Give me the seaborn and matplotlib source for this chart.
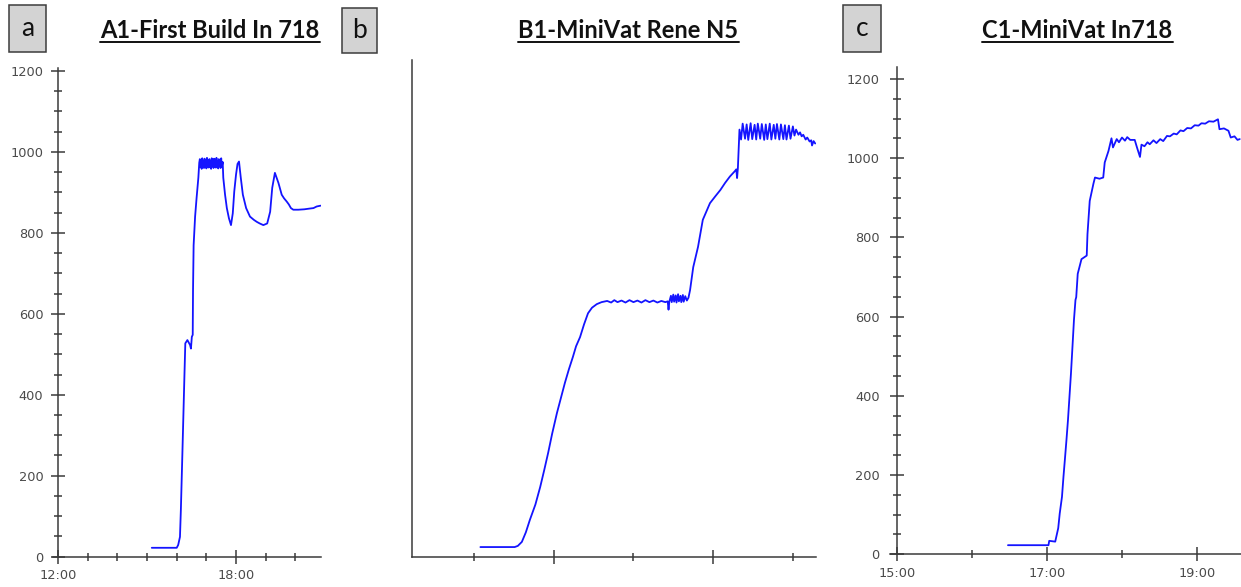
import matplotlib
matplotlib.use("Agg")
import matplotlib.pyplot as plt
from matplotlib.patches import Rectangle
from matplotlib.lines import Line2D
from matplotlib.ticker import FixedLocator
import seaborn as sns
import pandas as pd

# ---------------- data (time in hours of day, temperature in deg C) ----------------
a_time = [15.16, 16.00, 16.05, 16.11, 16.14, 16.19, 16.26, 16.29, 16.36, 16.45, 16.48, 16.51, 16.54, 16.55,
          16.57, 16.62, 16.67, 16.73, 16.76,
          16.78, 16.80, 16.82, 16.84, 16.86, 16.88, 16.90, 16.92, 16.94, 16.96, 16.98, 17.00, 17.02,
          17.04, 17.06, 17.08, 17.10, 17.12, 17.14, 17.16, 17.18, 17.20, 17.22, 17.24, 17.26, 17.28,
          17.30, 17.32, 17.34, 17.36, 17.38, 17.40, 17.42, 17.44, 17.46, 17.48, 17.50, 17.52, 17.55,
          17.57, 17.63, 17.69, 17.76, 17.83, 17.89, 17.94, 18.00, 18.05, 18.10, 18.16, 18.23, 18.34,
          18.47, 18.60, 18.70, 18.80, 18.92, 19.05, 19.15, 19.22, 19.31, 19.43, 19.54, 19.62, 19.71,
          19.78, 19.85, 19.93, 20.10, 20.30, 20.50, 20.61, 20.72, 20.85]
a_temp = [22, 22, 29, 49, 115, 251, 446, 527, 535, 523, 514, 543, 548, 658,
          769, 840, 886, 936, 973,
          982, 962, 979, 958, 984, 965, 977, 960, 983, 966, 980, 959, 985,
          963, 978, 961, 982, 964, 976, 958, 984, 967, 980, 960, 983, 962,
          979, 961, 985, 964, 977, 959, 982, 966, 980, 960, 984, 963, 975,
          936, 894, 861, 836, 819, 848, 902, 944, 970, 976, 936, 894, 861,
          840, 832, 827, 823, 819, 823, 852, 911, 948, 923, 894, 885, 877,
          870, 861, 857, 857, 858, 860, 861, 865, 867]

b_time = [15.08, 15.51, 15.55, 15.60, 15.65, 15.70, 15.77, 15.83, 15.88, 15.93, 15.98, 16.04, 16.09,
          16.14, 16.19, 16.24, 16.28, 16.33, 16.38, 16.43, 16.48, 16.54, 16.60, 16.67,
          16.72, 16.76, 16.80, 16.85, 16.90, 16.95, 17.00, 17.05, 17.10, 17.15, 17.20, 17.25, 17.30,
          17.35, 17.40, 17.43, 17.44, 17.45,
          17.47, 17.48, 17.50, 17.51, 17.53, 17.54, 17.56, 17.57, 17.59, 17.60, 17.62, 17.63, 17.65,
          17.67, 17.69, 17.71,
          17.75, 17.81, 17.87, 17.96, 18.03, 18.09, 18.15, 18.21, 18.27, 18.29, 18.30, 18.31, 18.33,
          18.35, 18.37, 18.40, 18.42, 18.44, 18.47, 18.49, 18.52, 18.54, 18.56, 18.59, 18.61, 18.64,
          18.66, 18.68, 18.71, 18.73, 18.76, 18.78, 18.80, 18.83, 18.85, 18.88, 18.90, 18.92, 18.95,
          18.97, 19.00,
          19.02, 19.04, 19.07, 19.09, 19.11, 19.13, 19.16, 19.18, 19.21, 19.23, 19.24, 19.26, 19.28]
b_temp = [25, 25, 28, 38, 62, 93, 132, 176, 218, 262, 310, 362, 400,
          438, 472, 503, 530, 553, 585, 613, 627, 636, 641, 644,
          640, 646, 641, 645, 640, 646, 641, 645, 640, 646, 641, 645, 640,
          644, 641, 643, 622, 642,
          657, 641, 660, 642, 658, 640, 661, 643, 657, 641, 659, 642, 656,
          645, 652, 671,
          729, 780, 848, 890, 908, 923, 941, 957, 970, 975, 953, 978, 1075,
          1050, 1090, 1052, 1088, 1049, 1091, 1051, 1087, 1050, 1090, 1052, 1089, 1049,
          1088, 1051, 1090, 1050, 1087, 1052, 1089, 1050, 1088, 1051, 1086, 1050, 1085,
          1052, 1083,
          1060, 1075, 1062, 1068, 1058, 1062, 1050, 1055, 1045, 1048, 1035, 1046, 1040]

c_time = [16.48, 17.02, 17.03, 17.11, 17.13, 17.15, 17.17, 17.20, 17.22, 17.24, 17.26, 17.28, 17.30,
          17.32, 17.34, 17.36, 17.38, 17.39, 17.41, 17.46, 17.53, 17.54, 17.57, 17.62, 17.64, 17.70,
          17.75, 17.77, 17.82, 17.86, 17.88, 17.93, 17.96, 18.00, 18.04, 18.07, 18.11, 18.17, 18.20,
          18.24, 18.26, 18.30, 18.34, 18.37, 18.42, 18.46, 18.51, 18.55, 18.60, 18.64, 18.69, 18.73,
          18.78, 18.82, 18.87, 18.92, 18.97, 19.02, 19.06, 19.11, 19.16, 19.22, 19.28, 19.30, 19.36,
          19.42, 19.45, 19.50, 19.54, 19.57]
c_temp = [23, 23, 34, 32, 49, 66, 103, 145, 196, 242, 289, 339, 398,
          457, 524, 592, 642, 649, 708, 745, 754, 808, 892, 936, 951, 948,
          951, 989, 1018, 1050, 1027, 1048, 1040, 1052, 1044, 1053, 1046, 1046, 1027,
          1003, 1034, 1030, 1040, 1035, 1045, 1038, 1048, 1043, 1056, 1055, 1062, 1060,
          1070, 1068, 1076, 1075, 1083, 1082, 1088, 1087, 1093, 1092, 1098, 1073, 1075,
          1069, 1052, 1055, 1046, 1048]

titles = ["A1-First Build In 718", "B1-MiniVat Rene N5", "C1-MiniVat In718"]
panel_tags = ["a", "b", "c"]

y_major = [0, 200, 400, 600, 800, 1000, 1200]
y_minor = [v for v in range(0, 1201, 50)]

a_xmajor, a_xminor, a_xlabels = [12, 18], [13, 14, 15, 16, 17, 19, 20], ["12:00", "18:00"]
b_xmajor, b_xminor = [16, 18], [15, 17, 19]
c_xmajor, c_xminor, c_xlabels = [15, 17, 19], [16, 18], ["15:00", "17:00", "19:00"]

# ---------------- style ----------------
sns.set_theme(style="white")
plt.rcParams["font.family"] = ["DejaVu Sans"]

W, H = 1241, 587
fig = plt.figure(figsize=(W / 100, H / 100), dpi=100)
fig.patch.set_facecolor("white")

LINE = "#1414ff"
AX = "#3a3a3a"
TXT = "#4a4a4a"


def px_axes(x0, x1, ybot, ytop):
    return fig.add_axes([x0 / W, 1 - ybot / H, (x1 - x0) / W, (ybot - ytop) / H])


def style_axes(ax, ypad, xpad=4.0):
    for s in ["top", "right"]:
        ax.spines[s].set_visible(False)
    for s in ["left", "bottom"]:
        ax.spines[s].set_color(AX)
        ax.spines[s].set_linewidth(1.1)
    ax.set_facecolor("white")
    ax.grid(False)
    ax.tick_params(which="both", bottom=True, left=True, top=False, right=False)
    ax.tick_params(which="major", direction="inout", length=10, width=1.1, color=AX,
                   labelsize=9.3, labelcolor=TXT)
    ax.tick_params(which="minor", direction="inout", length=6, width=1.1, color=AX)
    ax.tick_params(axis="y", which="major", pad=ypad)
    ax.tick_params(axis="x", which="major", pad=xpad)
    ax.set_xlabel("")
    ax.set_ylabel("")


def draw(ax, t, v):
    df = pd.DataFrame({"time": t, "temp": v})
    sns.lineplot(data=df, x="time", y="temp", ax=ax, color=LINE, lw=1.3,
                 sort=False, estimator=None)


# panel a
ax_a = px_axes(53, 321, 556.7, 68)
draw(ax_a, a_time, a_temp)
ax_a.set_xlim(11.83, 20.864)
ax_a.set_ylim(0, 1207)
ax_a.spines["left"].set_position(("data", 12))
ax_a.set_xticks(a_xmajor, a_xlabels)
ax_a.xaxis.set_minor_locator(FixedLocator(a_xminor))
ax_a.yaxis.set_major_locator(FixedLocator(y_major))
ax_a.yaxis.set_minor_locator(FixedLocator(y_minor))
style_axes(ax_a, 5.5)

# panel b
ax_b = px_axes(412, 816, 557, 60)
draw(ax_b, b_time, b_temp)
ax_b.set_xlim(14.222, 19.29)
ax_b.set_ylim(0, 1250)
ax_b.set_xticks(b_xmajor, ["", ""])
ax_b.xaxis.set_minor_locator(FixedLocator(b_xminor))
ax_b.set_yticks([])
style_axes(ax_b, 6.0)

# panel c
ax_c = px_axes(890, 1241, 554.3, 67)
draw(ax_c, c_time, c_temp)
ax_c.set_xlim(14.907, 19.587)
ax_c.set_ylim(0, 1230)
ax_c.spines["left"].set_position(("data", 15))
ax_c.set_xticks(c_xmajor, c_xlabels)
ax_c.xaxis.set_minor_locator(FixedLocator(c_xminor))
ax_c.yaxis.set_major_locator(FixedLocator(y_major))
ax_c.yaxis.set_minor_locator(FixedLocator(y_minor))
style_axes(ax_c, 7.5)

# ---------------- panel tags and underlined titles ----------------
tag_boxes = [(9, 5, 46, 52), (342, 8, 377, 53), (843, 5, 881, 52)]
for tag, (x0, y0, x1, y1) in zip(panel_tags, tag_boxes):
    fig.patches.append(Rectangle((x0 / W, 1 - y1 / H), (x1 - x0) / W, (y1 - y0) / H,
                                 transform=fig.transFigure, facecolor="#d3d3d3",
                                 edgecolor="#3c3c3c", lw=1.1))
    fig.text((x0 + x1) / 2 / W, 1 - (y0 + y1) / 2 / H, tag, ha="center", va="center",
             family=["Lato", "DejaVu Sans"], fontsize=19, color="#111111")

title_centers = [210, 628.5, 1077.5]
title_artists = []
for cx, title in zip(title_centers, titles):
    t = fig.text(cx / W, 1 - 37.5 / H, title, ha="center", va="baseline",
                 family=["Lato", "DejaVu Sans"], fontweight="bold", fontsize=17,
                 color="#111111")
    title_artists.append(t)

fig.canvas.draw()
renderer = fig.canvas.get_renderer()
for t in title_artists:
    bb = t.get_window_extent(renderer)
    yline = 1 - 41.5 / H
    fig.lines.append(Line2D([bb.x0 / W, bb.x1 / W], [yline, yline], transform=fig.transFigure,
                            color="#111111", lw=1.4))

fig.savefig("out.png", dpi=100, facecolor="white")
